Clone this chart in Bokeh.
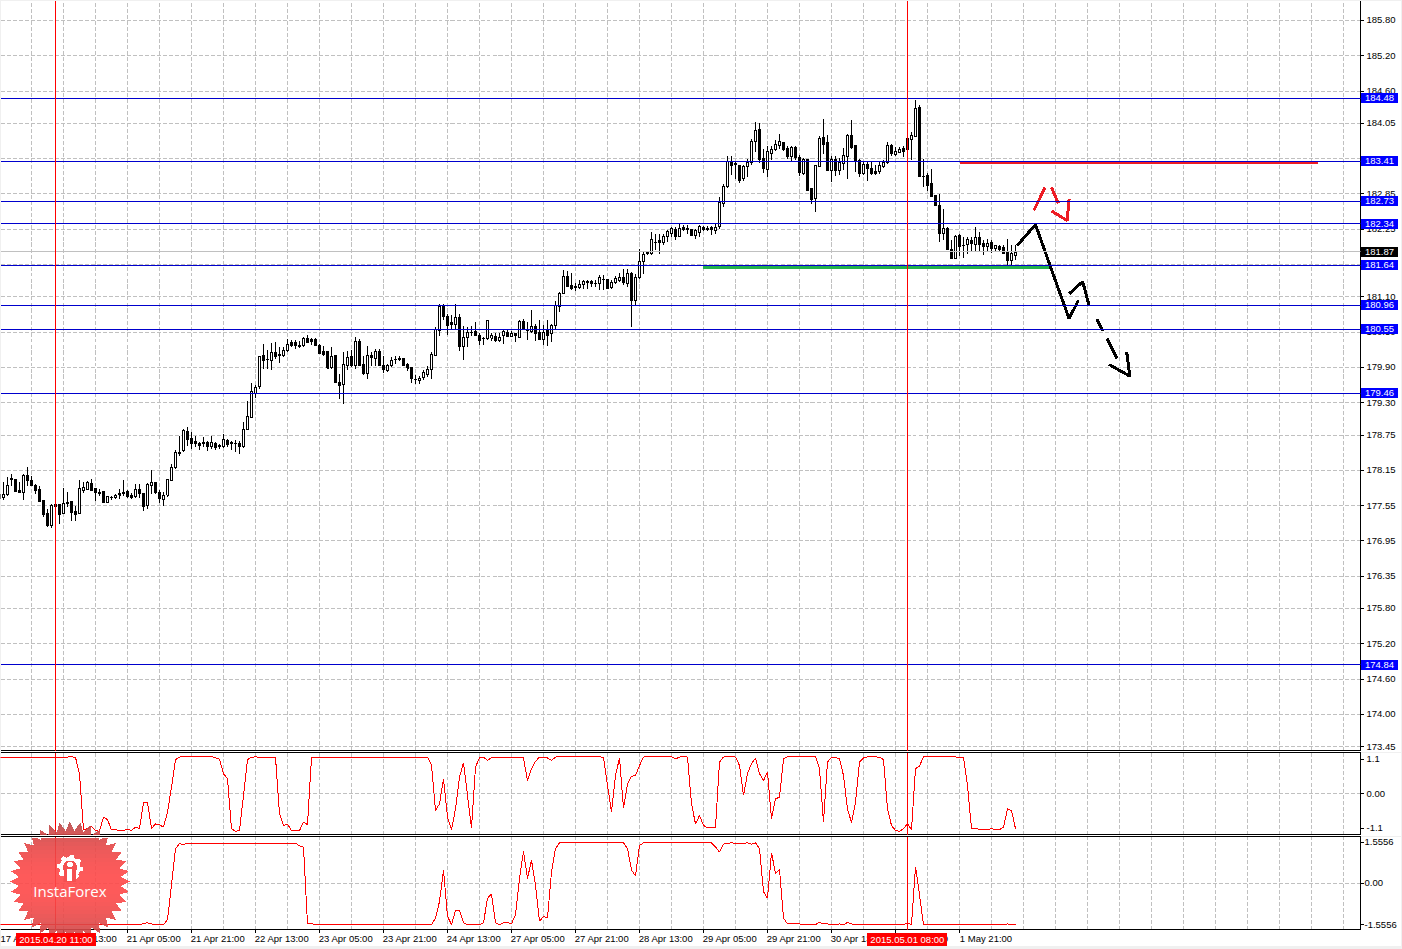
import math
from bokeh.plotting import figure
from bokeh.layouts import column, row
from bokeh.models import (ColumnDataSource, Range1d, LinearAxis, FixedTicker, Grid, Span, Label)
from bokeh.embed import file_html
from bokeh.resources import INLINE

highs = [177.81,177.95,178.04,178.08,178.01,177.95,178.09,178.20,178.06,177.92,
177.88,177.65,177.50,177.57,177.57,177.57,177.85,177.78,177.62,177.54,
177.98,177.95,177.97,178.01,177.85,177.83,177.79,177.71,177.72,177.74,
177.84,177.98,177.81,177.77,177.91,177.92,177.76,177.94,178.15,177.95,
177.81,177.78,178.00,178.25,178.49,178.73,178.86,178.88,178.80,178.73,
178.63,178.71,178.65,178.73,178.63,178.59,178.77,178.69,178.65,178.66,
178.65,178.98,179.33,179.63,179.60,180.10,180.29,180.19,180.31,180.33,
180.24,180.25,180.39,180.37,180.36,180.35,180.41,180.45,180.40,180.40,
180.30,180.26,180.17,180.25,180.10,179.79,180.16,180.18,180.19,180.42,
180.38,180.10,180.26,180.16,180.22,180.22,180.10,179.96,180.08,180.09,
180.10,180.05,179.97,179.91,179.77,179.75,179.85,179.93,180.16,180.58,
180.97,180.98,180.81,180.79,180.98,180.80,180.60,180.58,180.60,180.68,
180.48,180.41,180.71,180.48,180.48,180.48,180.55,180.56,180.52,180.49,
180.70,180.73,180.67,180.87,180.64,180.70,180.62,180.70,180.64,181.03,
181.18,181.55,181.54,181.50,181.33,181.38,181.38,181.39,181.38,181.38,
181.47,181.48,181.40,181.39,181.45,181.50,181.57,181.57,181.52,181.49,
181.92,181.86,181.88,182.20,182.17,182.17,182.17,182.24,182.29,182.28,
182.36,182.32,182.32,182.25,182.25,182.32,182.31,182.30,182.30,182.35,
182.80,183.02,183.49,183.50,183.40,183.34,183.34,183.45,183.79,184.07,
184.06,183.62,183.66,183.66,183.76,183.87,183.74,183.67,183.67,183.67,
183.51,183.46,183.44,182.94,183.34,183.83,184.12,183.86,183.49,183.49,
183.46,183.64,183.87,184.10,183.68,183.44,183.41,183.40,183.39,183.34,
183.39,183.43,183.73,183.70,183.65,183.65,183.66,183.79,183.90,184.44,
184.37,183.45,183.20,183.28,182.84,182.85,182.59,182.29,182.06,182.15,
182.17,182.12,182.12,182.12,182.28,182.20,182.06,182.09,182.06,181.99,
181.99,181.99,182.09,181.98,181.98]

lows = [177.65,177.64,177.72,177.88,177.78,177.78,177.64,177.89,177.88,177.74,
177.61,177.36,177.19,177.17,177.24,177.23,177.40,177.53,177.28,177.28,
177.40,177.76,177.81,177.80,177.62,177.72,177.61,177.59,177.65,177.67,
177.66,177.71,177.68,177.66,177.68,177.68,177.46,177.50,177.75,177.74,
177.60,177.55,177.70,177.97,178.18,178.40,178.46,178.57,178.51,178.55,
178.50,178.54,178.48,178.52,178.50,178.51,178.53,178.55,178.50,178.46,
178.43,178.53,178.83,179.04,179.38,179.54,179.87,179.87,179.85,180.05,
179.97,180.08,180.16,180.24,180.22,180.23,180.24,180.31,180.28,180.27,
180.12,180.10,179.88,179.88,179.63,179.36,179.27,179.85,179.90,179.87,
179.92,179.77,179.71,179.92,179.92,179.92,179.80,179.83,179.90,179.95,
180.01,179.92,179.84,179.63,179.62,179.62,179.69,179.74,179.71,180.09,
180.43,180.70,180.45,180.56,180.54,180.18,180.03,180.25,180.43,180.45,
180.28,180.28,180.36,180.35,180.33,180.33,180.30,180.43,180.43,180.33,
180.40,180.54,180.36,180.49,180.35,180.36,180.28,180.26,180.33,180.53,
180.84,181.15,181.26,181.21,181.20,181.24,181.24,181.24,181.26,181.26,
181.22,181.21,181.24,181.24,181.32,181.35,181.31,181.26,180.59,180.95,
181.41,181.49,181.81,181.81,181.89,181.83,181.98,182.03,182.11,182.06,
182.11,182.22,182.17,182.13,182.09,182.12,182.22,182.22,182.16,182.17,
182.26,182.63,182.95,183.17,183.10,183.03,183.07,183.13,183.35,183.56,
183.37,183.21,183.13,183.43,183.58,183.62,183.58,183.44,183.40,183.43,
183.15,183.17,182.91,182.68,182.54,183.30,183.53,183.24,183.05,183.16,
183.18,183.25,183.11,183.62,183.23,183.13,183.17,183.07,183.17,183.17,
183.19,183.29,183.36,183.50,183.50,183.55,183.48,183.42,183.42,183.82,
183.13,182.97,182.90,182.81,182.66,182.03,182.06,181.89,181.74,181.75,
181.79,181.76,181.83,181.87,181.87,181.87,181.81,181.87,181.85,181.86,
181.88,181.83,181.64,181.64,181.72]

opens = [177.75,177.68,177.74,178.01,178.00,177.80,177.78,178.06,177.98,177.89,
177.82,177.64,177.42,177.21,177.57,177.57,177.42,177.61,177.62,177.45,
177.42,177.81,177.83,177.92,177.84,177.78,177.79,177.61,177.69,177.68,
177.76,177.78,177.79,177.72,177.70,177.83,177.76,177.55,177.90,177.95,
177.78,177.66,177.73,177.98,178.19,178.46,178.48,178.81,178.69,178.64,
178.60,178.61,178.63,178.56,178.60,178.57,178.55,178.65,178.62,178.61,
178.61,178.55,178.84,179.05,179.45,179.57,180.10,180.03,180.01,180.16,
180.12,180.11,180.18,180.33,180.32,180.28,180.28,180.39,180.37,180.37,
180.28,180.17,180.17,179.90,180.10,179.64,179.61,179.93,180.08,179.94,
180.34,179.95,179.80,180.10,180.05,180.17,179.94,179.85,179.94,180.03,
180.05,180.05,179.95,179.90,179.70,179.67,179.72,179.78,179.87,180.11,
180.53,180.93,180.77,180.67,180.63,180.75,180.26,180.41,180.50,180.51,
180.45,180.40,180.39,180.40,180.42,180.35,180.44,180.50,180.43,180.48,
180.41,180.68,180.52,180.51,180.60,180.50,180.38,180.53,180.47,180.61,
180.94,181.16,181.44,181.30,181.27,181.26,181.31,181.34,181.36,181.33,
181.32,181.40,181.39,181.26,181.35,181.38,181.43,181.32,181.50,181.03,
181.43,181.70,181.85,181.83,182.03,182.05,182.03,182.13,182.18,182.25,
182.12,182.28,182.26,182.24,182.15,182.20,182.28,182.26,182.28,182.23,
182.30,182.68,182.97,183.40,183.36,183.34,183.11,183.32,183.39,183.75,
183.94,183.45,183.27,183.54,183.61,183.68,183.73,183.62,183.48,183.64,
183.47,183.20,183.43,182.94,182.78,183.32,183.81,183.73,183.25,183.44,
183.25,183.37,183.49,183.85,183.68,183.42,183.19,183.35,183.29,183.23,
183.24,183.32,183.38,183.68,183.52,183.56,183.62,183.79,183.78,183.83,
184.32,183.15,183.16,183.02,182.83,182.66,182.17,182.26,181.91,181.76,
182.15,181.98,181.99,182.06,181.99,182.11,182.01,181.95,182.03,181.92,
181.96,181.94,181.87,181.71,181.80]

closes = [177.67,177.74,177.89,178.00,177.79,177.78,178.06,177.97,177.89,177.81,
177.62,177.40,177.21,177.55,177.53,177.40,177.58,177.58,177.44,177.40,
177.84,177.85,177.95,177.81,177.77,177.75,177.61,177.70,177.68,177.72,
177.73,177.75,177.70,177.69,177.82,177.76,177.54,177.91,177.94,177.77,
177.67,177.72,177.99,178.19,178.45,178.44,178.83,178.68,178.61,178.60,
178.58,178.63,178.56,178.62,178.54,178.56,178.67,178.59,178.60,178.60,
178.55,178.84,179.06,179.49,179.56,180.08,180.01,180.04,180.15,180.09,
180.11,180.19,180.29,180.28,180.27,180.26,180.39,180.33,180.34,180.28,
180.13,180.12,179.89,180.09,179.65,179.59,179.95,180.07,179.93,180.34,
179.94,179.79,180.10,180.07,180.17,179.93,179.86,179.93,180.02,180.04,
180.04,179.93,179.89,179.71,179.69,179.71,179.82,179.86,180.12,180.54,
180.94,180.77,180.62,180.63,180.75,180.25,180.41,180.50,180.49,180.45,
180.36,180.39,180.70,180.44,180.35,180.41,180.51,180.43,180.47,180.45,
180.68,180.54,180.53,180.59,180.47,180.38,180.50,180.45,180.62,180.95,
181.15,181.44,181.27,181.25,181.26,181.31,181.36,181.36,181.32,181.32,
181.43,181.39,181.25,181.34,181.41,181.43,181.35,181.50,181.03,181.43,
181.70,181.82,181.84,182.07,182.02,182.03,182.13,182.21,182.26,182.12,
182.27,182.24,182.24,182.14,182.23,182.29,182.24,182.25,182.25,182.28,
182.71,182.98,183.40,183.34,183.35,183.08,183.32,183.39,183.74,183.93,
183.44,183.28,183.57,183.61,183.69,183.74,183.60,183.49,183.64,183.47,
183.22,183.43,182.91,182.76,183.33,183.79,183.69,183.25,183.44,183.25,
183.39,183.50,183.85,183.64,183.42,183.19,183.35,183.28,183.20,183.20,
183.34,183.39,183.68,183.53,183.58,183.61,183.58,183.60,183.85,184.30,
183.14,183.14,182.99,182.81,182.66,182.17,182.27,181.91,181.75,182.13,
181.96,181.97,182.08,182.01,182.11,181.99,181.96,182.01,181.93,181.98,
181.90,181.84,181.71,181.83,181.85]

# upper oscillator (first entry is the bar clipped at the left edge)
osc1 = [1.17,1.17,1.17,1.17,1.16,1.17,1.16,1.17,1.17,1.17,
1.17,1.17,1.17,1.17,1.17,1.17,1.17,1.17,1.18,1.16,
0.64,-1.14,-1.11,-1.04,-1.17,-1.19,-0.74,-0.82,-1.15,-1.15,
-1.16,-1.17,-1.13,-1.17,-1.06,-1.11,-0.29,-0.27,-1.11,-0.96,
-0.99,-1.06,-0.58,0.21,1.09,1.17,1.18,1.18,1.18,1.18,
1.18,1.18,1.18,1.18,1.15,1.10,0.64,0.48,-1.11,-1.19,
-1.17,-0.05,1.09,1.16,1.18,1.16,1.17,1.17,1.17,1.16,
-0.64,-1.01,-0.96,-1.17,-1.17,-1.17,-0.90,-0.98,1.16,1.17,
1.17,1.17,1.16,1.17,1.17,1.17,1.16,1.16,1.17,1.17,
1.17,1.16,1.17,1.17,1.17,1.17,1.16,1.17,1.17,1.17,
1.17,1.17,1.16,1.17,1.17,1.17,1.17,1.16,0.92,-0.53,-0.32,
0.48,-0.74,-1.15,-0.48,0.53,0.99,-0.05,-1.09,0.85,1.15,
1.17,1.06,1.16,1.17,1.14,1.17,1.17,1.17,1.17,1.17,
1.14,0.42,0.80,1.03,1.17,1.16,1.14,1.06,1.17,1.18,
1.18,1.18,1.18,1.18,1.18,1.18,1.18,1.18,1.18,1.18,
1.16,0.27,-0.58,0.58,1.14,-0.46,0.32,0.56,0.58,0.90,
1.17,1.18,1.18,1.18,1.18,1.18,1.18,1.18,1.11,1.17,
1.18,1.17,-0.32,-0.96,-0.69,-1.01,-1.08,-1.08,-1.06,1.01,
1.17,1.19,1.18,1.17,0.90,-0.05,0.64,0.96,1.14,0.64,
0.42,0.69,-0.80,-0.16,-0.11,1.11,1.18,1.18,1.18,1.18,
1.18,1.18,1.18,1.18,0.80,-0.90,1.01,1.16,1.16,1.11,
0.58,-0.48,-0.92,-0.27,1.01,1.14,1.18,1.18,1.18,1.16,
1.09,-0.48,-1.01,-1.17,-1.19,-1.11,-0.96,-1.14,0.80,0.88,
1.18,1.18,1.18,1.18,1.18,1.18,1.18,1.18,1.18,1.14,
1.16,0.27,-1.11,-1.11,-1.13,-1.15,-1.14,-1.11,-1.14,-1.14,
-1.06,-0.48,-0.53,-1.11]

# lower oscillator (first entry is the bar clipped at the left edge)
osc2 = [-1.57,-1.57,-1.57,-1.57,-1.57,-1.57,-1.54,-1.56,-1.57,-1.57,
-1.57,-1.57,-1.57,-1.57,-1.57,-1.57,-1.57,-1.57,-1.57,-1.55,
-1.55,-1.56,-1.57,-1.57,-1.57,-1.57,-1.57,-1.57,-1.57,-1.57,
-1.57,-1.57,-1.57,-1.57,-1.57,-1.57,-1.51,-1.49,-1.53,-1.56,
-1.57,-1.57,-1.37,-0.06,1.32,1.51,1.47,1.53,1.53,1.53,
1.53,1.53,1.53,1.53,1.53,1.53,1.53,1.53,1.52,1.53,
1.52,1.53,1.53,1.53,1.52,1.53,1.53,1.53,1.53,1.53,
1.53,1.53,1.53,1.53,1.53,1.42,1.38,-1.53,-1.53,-1.54,
-1.55,-1.55,-1.54,-1.55,-1.56,-1.55,-1.55,-1.54,-1.55,-1.55,
-1.55,-1.56,-1.56,-1.56,-1.56,-1.56,-1.56,-1.56,-1.57,-1.57,
-1.57,-1.57,-1.57,-1.57,-1.57,-1.57,-1.57,-1.57,-1.57,-1.31,
-0.68,0.51,-1.24,-1.56,-1.03,-1.03,-1.49,-1.56,-1.57,-1.57,
-1.57,-1.49,-0.56,-0.39,-1.49,-1.57,-1.49,-1.47,-1.53,-1.18,
0.19,1.22,0.19,0.88,-0.06,-1.43,-1.24,-1.31,0.44,1.32,
1.54,1.54,1.54,1.54,1.54,1.54,1.54,1.54,1.54,1.54,
1.54,1.54,1.54,1.54,1.54,1.54,1.54,1.32,0.51,0.29,
1.44,1.54,1.54,1.54,1.54,1.54,1.54,1.54,1.54,1.54,
1.54,1.54,1.54,1.54,1.54,1.54,1.54,1.54,1.54,1.38,1.19,
1.49,1.52,1.54,1.52,1.52,1.52,1.54,1.49,1.54,1.32,
-0.31,-0.56,1.17,0.38,0.54,-1.31,-1.53,-1.53,-1.53,-1.53,
-1.57,-1.56,-1.57,-1.56,-1.47,-1.53,-1.53,-1.57,-1.57,-1.53,
-1.57,-1.47,-1.53,-1.57,-1.57,-1.57,-1.57,-1.57,-1.57,-1.57,
-1.57,-1.57,-1.57,-1.57,-1.57,-1.57,-1.49,-1.56,0.63,-0.43,
-1.56,-1.57,-1.57,-1.57,-1.57,-1.57,-1.57,-1.57,-1.57,-1.57,
-1.57,-1.57,-1.57,-1.57,-1.57,-1.57,-1.57,-1.57,-1.57,-1.57,
-1.57,-1.53,-1.57,-1.57]

price_ticks = [185.80,185.20,184.60,184.05,183.45,182.85,182.25,181.65,181.10,180.50,179.90,
               179.30,178.75,178.15,177.55,176.95,176.35,175.80,175.20,174.60,174.00,173.45]
level_prices = [184.48,183.41,182.73,182.34,181.64,180.96,180.55,179.46,174.84]
last_price = 181.87
osc1_ticks = [1.1,0.0,-1.1]
osc1_tick_labels = ["1.1","0.00","-1.1"]
osc2_ticks = [1.5556,0.0,-1.5556]
osc2_tick_labels = ["1.5556","0.00","-1.5556"]
date_bars = [-1,15,31,47,63,79,95,111,127,143,159,175,191,207,223,239]
date_labels = ["17 Apr 21:00","20 Apr 13:00","21 Apr 05:00","21 Apr 21:00","22 Apr 13:00","23 Apr 05:00",
               "23 Apr 21:00","24 Apr 13:00","27 Apr 05:00","27 Apr 21:00","28 Apr 13:00","29 Apr 05:00",
               "29 Apr 21:00","30 Apr 13:00","1 May 05:00","1 May 21:00"]
cursor_bars = [13,226]
cursor_labels = ["2015.04.20 11:00","2015.05.01 08:00"]

support_x, support_y = [174.9,261.6], [181.60,181.60]
resist_x, resist_y = [239.1,328.6], [183.38,183.38]
black_paths = [([253.4,258.0,261.8,266.4,268.7],[181.97,182.33,181.60,180.73,181.04]),
               ([266.4,269.8,271.4],[181.15,181.36,180.95]),
               ([273.3,274.9],[180.72,180.52]),
               ([275.9,278.4],[180.39,180.05]),
               ([276.4,281.6,280.8],[179.95,179.75,180.16])]
red_paths = [([257.6,260.4],[182.57,182.96]),
             ([262.0,263.7],[182.96,182.69]),
             ([262.0,265.9,266.4],[182.56,182.40,182.76])]

FONT = "Liberation Sans"
FS = "9.5px"
BLUE = "#0000cd"
GRID = "#c0c0c0"
RED = "#ff0000"
x_range = Range1d(-0.75, 339.25)
grid_bars = list(range(7, 340, 8))


def edge_axis():
    return LinearAxis(ticker=FixedTicker(ticks=[]), major_tick_in=0, major_tick_out=0, minor_tick_in=0,
                      minor_tick_out=0, major_label_text_font_size="1px", major_label_standoff=0,
                      axis_line_color="black")


def make_pane(height, top, bottom, ymin, ymax, ticks, overrides, standoff=3):
    p = figure(width=1401, height=height, x_range=x_range, y_range=Range1d(ymin, ymax),
               x_axis_type=None, y_axis_type=None, tools="", toolbar_location=None,
               output_backend="svg", min_border_left=0, min_border_right=41,
               min_border_top=top, min_border_bottom=bottom,
               outline_line_color=None, background_fill_color="white", border_fill_color="white")
    ax = LinearAxis(ticker=FixedTicker(ticks=ticks), major_label_overrides=overrides,
                    major_tick_in=0, major_tick_out=3, minor_tick_in=0, minor_tick_out=0,
                    major_label_standoff=standoff, major_label_text_font=FONT,
                    major_label_text_font_size=FS, major_label_text_color="black",
                    axis_line_color="black", major_tick_line_color="black")
    p.add_layout(ax, "right")
    p.add_layout(Grid(dimension=0, ticker=FixedTicker(ticks=grid_bars), grid_line_color=GRID,
                      grid_line_dash="4 2", grid_line_width=1))
    return p


def add_cursors(p, ymin, ymax):
    for c in cursor_bars:
        p.line([c, c], [ymin, ymax], line_color=RED, line_width=1, level="overlay")


# ---------- price pane
p1 = make_pane(752, 0, 2, 173.385, 186.14, price_ticks, {t: f"{t:.2f}" for t in price_ticks})
p1.add_layout(edge_axis(), "below")
p1.add_layout(Grid(dimension=1, ticker=FixedTicker(ticks=price_ticks), grid_line_color=GRID,
                   grid_line_dash="4 2", grid_line_width=1))
p1.add_layout(Span(location=last_price, dimension="width", line_color="#c0c0c0", line_width=1))

bars = [i - 1 for i in range(len(opens))]
up = [c >= o for o, c in zip(opens, closes)]
src = ColumnDataSource(dict(x=bars, h=highs, l=lows,
                            top=[max(o, c) for o, c in zip(opens, closes)],
                            bot=[min(o, c) for o, c in zip(opens, closes)],
                            fill=["white" if u else "black" for u in up]))
p1.segment("x", "h", "x", "l", source=src, line_color="black", line_width=1)
p1.vbar("x", 0.5, "bot", "top", source=src, fill_color="fill", line_color="black", line_width=1)

p1.line(support_x, support_y, line_color="#22b14c", line_width=3)
p1.line(resist_x, resist_y, line_color="#ed1c24", line_width=3)
for xs, ys in black_paths:
    p1.line(xs, ys, line_color="black", line_width=3)
for xs, ys in red_paths:
    p1.line(xs, ys, line_color="#ed1c24", line_width=3)
for lv in level_prices:
    p1.add_layout(Span(location=lv, dimension="width", line_color=BLUE, line_width=1))
add_cursors(p1, 173.385, 186.14)

# ---------- oscillator panes
p2 = make_pane(84, 0, 2, -1.296, 1.315, osc1_ticks, dict(zip(osc1_ticks, osc1_tick_labels)))
p2.add_layout(edge_axis(), "above")
p2.add_layout(edge_axis(), "below")
p2.add_layout(Grid(dimension=1, ticker=FixedTicker(ticks=[0]), grid_line_color=GRID,
                   grid_line_dash="4 2", grid_line_width=1))
p2.line(bars[:len(osc1)], osc1, line_color=RED, line_width=1)
add_cursors(p2, -1.296, 1.315)

p3 = make_pane(110, 0, 16, -1.742, 1.779, osc2_ticks, dict(zip(osc2_ticks, osc2_tick_labels)), standoff=1)
p3.add_layout(edge_axis(), "above")
p3.add_layout(Grid(dimension=1, ticker=FixedTicker(ticks=[0]), grid_line_color=GRID,
                   grid_line_dash="4 2", grid_line_width=1))
p3.line(bars[:len(osc2)], osc2, line_color=RED, line_width=1)
add_cursors(p3, -1.742, 1.779)

tick_axis = LinearAxis(ticker=FixedTicker(ticks=date_bars), major_label_overrides={b: "" for b in date_bars},
                       major_tick_in=0, major_tick_out=3, minor_tick_in=0, minor_tick_out=0,
                       major_label_standoff=0, major_label_text_font_size="1px", axis_line_color="black")
p3.add_layout(tick_axis, "below")
label_pos = [b + 6.625 for b in date_bars]
label_axis = LinearAxis(ticker=FixedTicker(ticks=label_pos), major_label_overrides=dict(zip(label_pos, date_labels)),
                        major_tick_in=0, major_tick_out=0, minor_tick_in=0, minor_tick_out=0,
                        major_label_standoff=0, major_label_text_font=FONT, major_label_text_font_size=FS,
                        major_label_text_color="black", axis_line_color=None)
p3.add_layout(label_axis, "below")


# ---------- overlay: one transparent figure spanning the window, sharing the price and bar scales
def to_bar(px):
    return px / 4 - 0.875


def to_price(py):
    return 186.14 - py / 58.8


top_fig = figure(width=1402, height=949, x_range=Range1d(to_bar(0), to_bar(1402)),
                 y_range=Range1d(to_price(949), to_price(0)), x_axis_type=None, y_axis_type=None,
                 tools="", toolbar_location=None, output_backend="svg", min_border=0,
                 outline_line_color=None, background_fill_color=None, border_fill_color=None)
top_fig.grid.visible = False


def tag(txt, val, bg):
    top_fig.add_layout(Label(x=to_bar(1380), y=val, text=txt, text_color="white", text_font=FONT,
                             text_font_size=FS, text_align="center", text_baseline="middle",
                             background_fill_color=bg, padding=(4, 2)))


CX, CY, R_OUT, R_IN, SPIKES = 69.5, 881.0, 60.0, 51.0, 36


def clip_band(poly, y0, y1):
    def clip(pts, keep, cross):
        out = []
        for i, a in enumerate(pts):
            b = pts[(i + 1) % len(pts)]
            if keep(a):
                out.append(a)
            if keep(a) != keep(b):
                out.append(cross(a, b))
        return out
    def at(yv):
        return lambda a, b: (a[0] + (b[0] - a[0]) * (yv - a[1]) / (b[1] - a[1]), yv)
    pts = clip(poly, lambda q: q[1] >= y0, at(y0))
    if pts:
        pts = clip(pts, lambda q: q[1] <= y1, at(y1))
    return pts


star = []
for i in range(SPIKES * 2):
    r = R_OUT if i % 2 == 0 else R_IN
    a = math.pi * i / SPIKES
    star.append((CX + r * math.cos(a), CY + r * math.sin(a)))


def band_color(y):
    t = min(1.0, abs(y - 882) / 62)
    t = t * t
    return "#%02x%02x%02x" % (int(255 - 75 * t), 72, 72)


band_xs, band_ys, band_cols = [], [], []
y = 818
while y < 945:
    y2 = y + 4
    if y2 <= 834 or y >= 837:
        pts = clip_band(star, y, y2)
        if pts:
            band_xs.append([to_bar(q[0]) for q in pts])
            band_ys.append([to_price(q[1]) for q in pts])
            band_cols.append(band_color(y + 2))
    y = 837 if y2 == 834 else y2
top_fig.patches(band_xs, band_ys, fill_color=band_cols, fill_alpha=0.9, line_color=None)


def poly(pts, color):
    top_fig.patch([to_bar(q[0]) for q in pts], [to_price(q[1]) for q in pts], fill_color=color, line_color=None)


GX, GY = 69.5, 867.0
gear = []
for i in range(64):
    a = 2 * math.pi * i / 64
    r = 13.0 if (i // 4) % 2 == 0 else 10.5
    gear.append((GX + r * math.cos(a), GY + r * math.sin(a)))
poly(gear, "white")
poly([(GX + 7 * math.cos(2 * math.pi * i / 32), GY + 7 * math.sin(2 * math.pi * i / 32)) for i in range(32)], "#f55050")
poly([(GX - 6, GY + 4), (GX + 6, GY + 4), (GX + 6, GY + 14), (GX - 6, GY + 14)], "#f55050")
poly([(GX + 3 * math.cos(2 * math.pi * i / 16), GY - 3 + 3 * math.sin(2 * math.pi * i / 16)) for i in range(16)], "white")
poly([(GX - 2.5, GY + 1), (GX + 2.5, GY + 1), (GX + 2.5, GY + 13), (GX - 2.5, GY + 13)], "white")

top_fig.add_layout(Label(x=to_bar(69.5), y=to_price(890), text="InstaForex", text_color="white",
                         text_font="Open Sans", text_font_size="15px", text_align="center", text_baseline="middle"))

for lv in level_prices:
    tag(f"{lv:.2f}", lv, "#0000ff")
tag(f"{last_price:.2f}", last_price, "black")

for c, txt in zip(cursor_bars, cursor_labels):
    top_fig.add_layout(Label(x=c, y=to_price(939.2), text=txt, text_color="white", text_font=FONT,
                             text_font_size=FS, text_align="center", text_baseline="middle",
                             background_fill_color="#ff0000", padding=(3, 1)))

layout = column(column(p1, p2, p3, spacing=0),
                row(top_fig, styles={"position": "absolute", "top": "0px", "left": "0px"}),
                spacing=0)
html = file_html(layout, INLINE)
html = html.replace("</head>", "<style>html,body{margin:0;padding:0;background:#f0f0f0;overflow:hidden;shape-rendering:crispEdges}</style></head>", 1)
open("out.html", "w").write(html)
